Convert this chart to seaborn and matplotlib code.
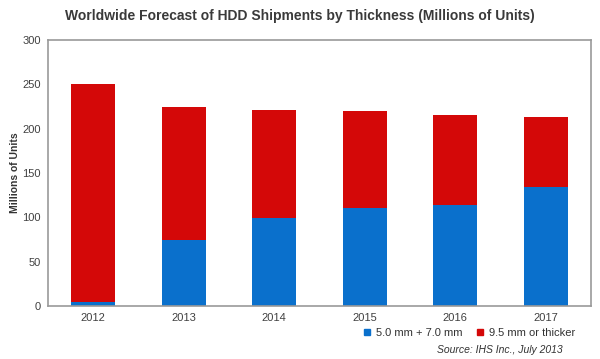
import matplotlib.pyplot as plt
import pandas as pd
import seaborn as sns
from matplotlib.lines import Line2D

sns.set_style("white")
plt.rcParams["font.family"] = ["Liberation Sans", "DejaVu Sans"]

years = ["2012", "2013", "2014", "2015", "2016", "2017"]
thin = [4, 74, 99, 110, 114, 134]          # 5.0 mm + 7.0 mm
thick = [246, 150, 122, 110, 101, 79]       # 9.5 mm or thicker

BLUE = "#0a70cc"
RED = "#d40808"

df = pd.DataFrame({"year": years, "thin": thin, "thick": thick})
df["total"] = df["thin"] + df["thick"]

fig = plt.figure(figsize=(6, 3.59), dpi=100)
ax = fig.add_axes([0.08, 0.148, 0.905, 0.741])

sns.barplot(data=df, x="year", y="total", color=RED, width=0.49, ax=ax,
            saturation=1, linewidth=0)
sns.barplot(data=df, x="year", y="thin", color=BLUE, width=0.49, ax=ax,
            saturation=1, linewidth=0)

ax.set_ylim(0, 300)
ax.set_yticks(range(0, 301, 50))
ax.set_xlim(-0.5, 5.5)
ax.set_xlabel("")
ax.set_ylabel("Millions of Units", fontsize=7.5, fontweight="bold", color="#333333", labelpad=2)
ax.tick_params(axis="both", length=0, labelsize=8, colors="#404040", pad=5)
for s in ax.spines.values():
    s.set_color("#999999")
    s.set_linewidth(1.2)

fig.suptitle("Worldwide Forecast of HDD Shipments by Thickness (Millions of Units)",
             x=0.5, y=0.975, fontsize=10, fontweight="bold", color="#3a3a3a")

handles = [Line2D([], [], marker="s", color=BLUE, ls="", markersize=5),
           Line2D([], [], marker="s", color=RED, ls="", markersize=5)]
fig.legend(handles, ["5.0 mm + 7.0 mm", "9.5 mm or thicker"], ncol=2, frameon=False,
           loc="center", bbox_to_anchor=(0.776, 0.072), fontsize=8, handletextpad=-0.2,
           columnspacing=0.6, labelcolor="#333333")
fig.text(0.937, 0.025, "Source: IHS Inc., July 2013", ha="right", va="center",
         fontsize=7.5, style="italic", color="#333333")

fig.savefig("out.png", dpi=100)
